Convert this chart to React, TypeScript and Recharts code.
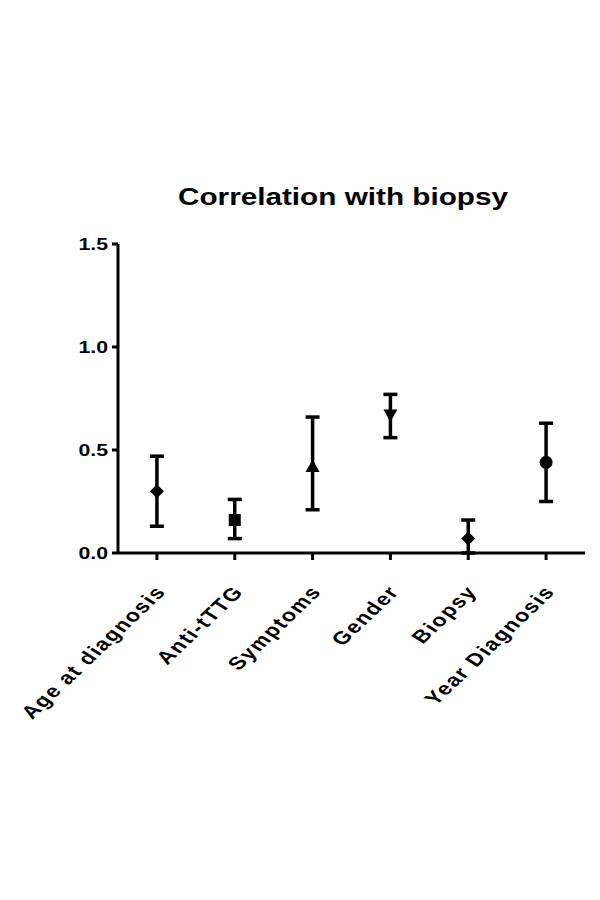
import React from 'react';
import { ComposedChart, Scatter, XAxis, YAxis, ErrorBar } from 'recharts';

const categories = ['Age at diagnosis', 'Anti-tTTG', 'Symptoms', 'Gender', 'Biopsy', 'Year Diagnosis'];
const means = [0.30, 0.16, 0.42, 0.67, 0.07, 0.44];
const lowers = [0.13, 0.07, 0.21, 0.56, 0.0, 0.25];
const uppers = [0.47, 0.26, 0.66, 0.77, 0.16, 0.63];
const markers = ['diamond', 'square', 'triangle', 'triangleDown', 'diamond', 'circle'];
const yTicks = [0, 0.5, 1.0, 1.5];

const data = categories.map((name, i) => ({
  name,
  value: means[i],
  err: [means[i] - lowers[i], uppers[i] - means[i]],
  marker: markers[i],
}));

const FONT = '"Liberation Sans", Arial, sans-serif';

const MarkerShape = (props: any) => {
  const { cx, cy, payload } = props;
  if (cx == null || cy == null) return null;
  const m = payload?.marker;
  const s = 7;
  if (m === 'diamond') {
    return <path d={`M${cx},${cy - s} L${cx + s},${cy} L${cx},${cy + s} L${cx - s},${cy} Z`} fill="#000" />;
  }
  if (m === 'square') {
    return <rect x={cx - 6} y={cy - 6} width={12} height={12} fill="#000" />;
  }
  if (m === 'triangle') {
    return <path d={`M${cx},${cy - s} L${cx + s},${cy + s * 0.8} L${cx - s},${cy + s * 0.8} Z`} fill="#000" />;
  }
  if (m === 'triangleDown') {
    return <path d={`M${cx},${cy + s} L${cx + s},${cy - s * 0.8} L${cx - s},${cy - s * 0.8} Z`} fill="#000" />;
  }
  return <circle cx={cx} cy={cy} r={6.5} fill="#000" />;
};

const YTick = (props: any) => {
  const { x, y, payload } = props;
  return (
    <g transform={`translate(${x},${y}) scale(1.25,1)`}>
      <text x={0} y={0} dy={6} textAnchor="end" fontFamily={FONT} fontWeight="bold" fontSize={17} fill="#000">
        {Number(payload.value).toFixed(1)}
      </text>
    </g>
  );
};

const XTick = (props: any) => {
  const { x, y, payload } = props;
  return (
    <g transform={`translate(${x + 10},${y + 30}) scale(1.3,1) rotate(-51)`}>
      <text
        x={0}
        y={0}
        textAnchor="end"
        fontFamily={FONT}
        fontWeight="bold"
        fontSize={18}
        letterSpacing={1.3}
        fill="#000"
      >
        {payload.value}
      </text>
    </g>
  );
};

export default function App() {
  return (
    <div style={{ position: 'absolute', left: 0, top: 0, width: 600, height: 900, background: '#fff' }}>
      <svg width={600} height={40} style={{ position: 'absolute', left: 0, top: 178 }}>
        <text
          x={343}
          y={27}
          textAnchor="middle"
          fontFamily={FONT}
          fontWeight="bold"
          fontSize={23}
          textLength={330}
          lengthAdjust="spacingAndGlyphs"
          fill="#000"
        >
          Correlation with biopsy
        </text>
      </svg>
      <div style={{ position: 'absolute', left: 0, top: 0 }}>
        <ComposedChart width={600} height={900} data={data} margin={{ top: 244, right: 15, bottom: 197, left: 58 }}>
          <XAxis
            dataKey="name"
            type="category"
            scale="band"
            axisLine={{ stroke: '#000', strokeWidth: 3 }}
            tickLine={{ stroke: '#000', strokeWidth: 3 }}
            tickSize={7}
            tick={<XTick />}
            interval={0}
            height={150}
          />
          <YAxis
            type="number"
            domain={[0, 1.5]}
            ticks={yTicks}
            allowDataOverflow
            axisLine={{ stroke: '#000', strokeWidth: 3 }}
            tickLine={{ stroke: '#000', strokeWidth: 3 }}
            tickSize={6}
            tickMargin={4}
            tick={<YTick />}
            width={60}
          />
          <Scatter dataKey="value" shape={<MarkerShape />} isAnimationActive={false}>
            <ErrorBar dataKey="err" direction="y" width={7} stroke="#000" strokeWidth={3.5} isAnimationActive={false} />
          </Scatter>
        </ComposedChart>
      </div>
    </div>
  );
}
